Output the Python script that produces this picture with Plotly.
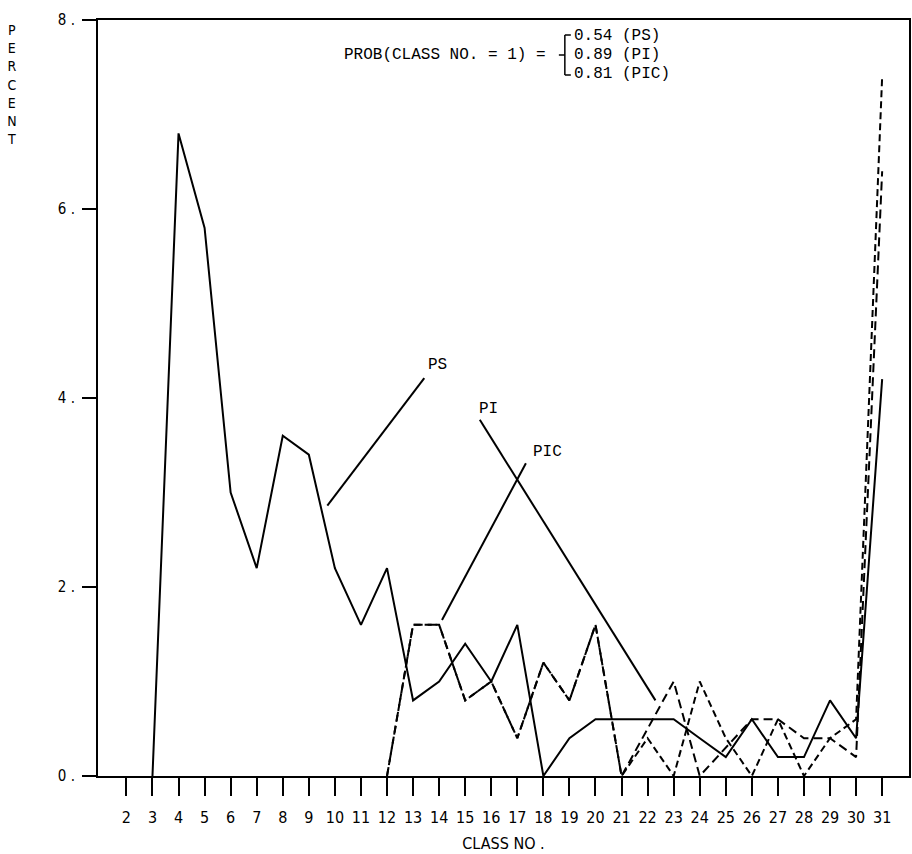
import plotly.graph_objects as go

# ---------------- data ----------------
ps_class = list(range(3, 32))
ps_pct = [0.0, 6.8, 5.8, 3.0, 2.2, 3.6, 3.4, 2.2, 1.6, 2.2, 0.8, 1.0, 1.4, 1.0, 1.6,
          0.0, 0.4, 0.6, 0.6, 0.6, 0.6, 0.4, 0.2, 0.6, 0.2, 0.2, 0.8, 0.4, 4.2]

pi_class = list(range(12, 32))
pi_pct = [0.0, 1.6, 1.6, 0.8, 1.0, 0.4, 1.2, 0.8, 1.6, 0.0,
          0.5, 1.0, 0.0, 0.3, 0.6, 0.6, 0.4, 0.4, 0.2, 6.4]

pic_class = list(range(12, 32))
pic_pct = [0.0, 1.6, 1.6, 0.8, 1.0, 0.4, 1.2, 0.8, 1.6, 0.0,
           0.4, 0.0, 1.0, 0.4, 0.0, 0.6, 0.0, 0.4, 0.6, 7.4]

x_ticks = list(range(2, 32))
x_ticklabels = [str(v) for v in x_ticks]
y_ticks = [0, 2, 4, 6, 8]
y_ticklabels = ["0 .", "2 .", "4 .", "6 .", "8 ."]

prob_lines = ["0.54 (PS)", "0.89 (PI)", "0.81 (PIC)"]

# ---------------- layout helpers ----------------
W, H = 912, 854
L, R, T, B = 98, 1, 20, 78          # plot area 98..911 x 20..776
PW, PH = W - L - R, H - T - B

def px(x):
    return (x - L) / PW

def py(y):
    return (H - B - y) / PH

AX_FONT = "Liberation Sans Narrow, DejaVu Sans Condensed, DejaVu Sans, sans-serif"
MONO = "Liberation Mono, Courier New, monospace"

fig = go.Figure()
fig.add_trace(go.Scatter(x=ps_class, y=ps_pct, mode="lines", name="PS",
                         line=dict(color="black", width=2)))
fig.add_trace(go.Scatter(x=pi_class, y=pi_pct, mode="lines", name="PI",
                         line=dict(color="black", width=2, dash="9px,5px")))
fig.add_trace(go.Scatter(x=pic_class, y=pic_pct, mode="lines", name="PIC",
                         line=dict(color="black", width=2, dash="7px,4px")))

# leader lines for series labels
leaders = [((13.43, 4.21), (9.71, 2.86)),
           ((15.56, 3.77), (22.30, 0.80)),
           ((17.33, 3.31), (14.11, 1.65))]
for (x0, y0), (x1, y1) in leaders:
    fig.add_shape(type="line", xref="x", yref="y", x0=x0, y0=y0, x1=x1, y1=y1,
                  line=dict(color="black", width=2))

ann = [
    dict(x=13.5, y=4.35, text="PS", xanchor="left"),
    dict(x=15.9, y=3.88, text="PI", xanchor="center"),
    dict(x=18.17, y=3.43, text="PIC", xanchor="center"),
]
for a in ann:
    fig.add_annotation(x=a["x"], y=a["y"], xref="x", yref="y", text=a["text"],
                       xanchor=a["xanchor"], yanchor="middle", showarrow=False,
                       font=dict(family=MONO, size=16, color="black"))

# probability note
fig.add_annotation(x=px(343), y=py(55), xref="paper", yref="paper",
                   text="PROB(CLASS NO. = 1) =", xanchor="left", yanchor="middle",
                   showarrow=False, font=dict(family=MONO, size=16, color="black"))
for i, t in enumerate(prob_lines):
    fig.add_annotation(x=px(573), y=py(36 + 19 * i), xref="paper", yref="paper",
                       text=t, xanchor="left", yanchor="middle", showarrow=False,
                       font=dict(family=MONO, size=16, color="black"))
brace = [((566, 35), (566, 75)), ((566, 35), (572, 35)), ((566, 75), (572, 75)),
         ((560, 55), (566, 55))]
for (x0, y0), (x1, y1) in brace:
    fig.add_shape(type="line", xref="paper", yref="paper",
                  x0=px(x0), y0=py(y0), x1=px(x1), y1=py(y1),
                  line=dict(color="black", width=1.5))

# vertical y label
fig.add_annotation(x=px(12), y=py(85), xref="paper", yref="paper",
                   text="<br>".join(list("PERCENT")), xanchor="center", yanchor="middle",
                   showarrow=False, align="center",
                   font=dict(family=AX_FONT, size=14, color="black"))

fig.update_layout(
    width=W, height=H,
    margin=dict(l=L, r=R, t=T, b=B, pad=0),
    paper_bgcolor="white", plot_bgcolor="white",
    showlegend=False,
    font=dict(family=AX_FONT, size=15, color="black"),
    xaxis=dict(range=[0.91, 32.03], tickmode="array", tickvals=x_ticks,
               ticktext=x_ticklabels, ticks="outside", ticklen=18, tickwidth=1.5,
               tickcolor="black", showline=True, linecolor="black", linewidth=2,
               mirror=True, showgrid=False, zeroline=False,
               tickfont=dict(family=AX_FONT, size=16),
               ticklabelstandoff=8,
               title=dict(text="CLASS NO .", font=dict(family=AX_FONT, size=16),
                          standoff=12)),
    yaxis=dict(range=[0, 8], tickmode="array", tickvals=y_ticks,
               ticktext=y_ticklabels, ticks="outside", ticklen=14, tickwidth=1.5,
               tickcolor="black", showline=True, linecolor="black", linewidth=2,
               mirror=True, showgrid=False, zeroline=False,
               tickfont=dict(family=AX_FONT, size=15),
               ticklabelstandoff=4),
)

fig.write_html("out.html", config={"displayModeBar": False},
               post_script="document.body.style.margin='0';document.body.style.padding='0';")
